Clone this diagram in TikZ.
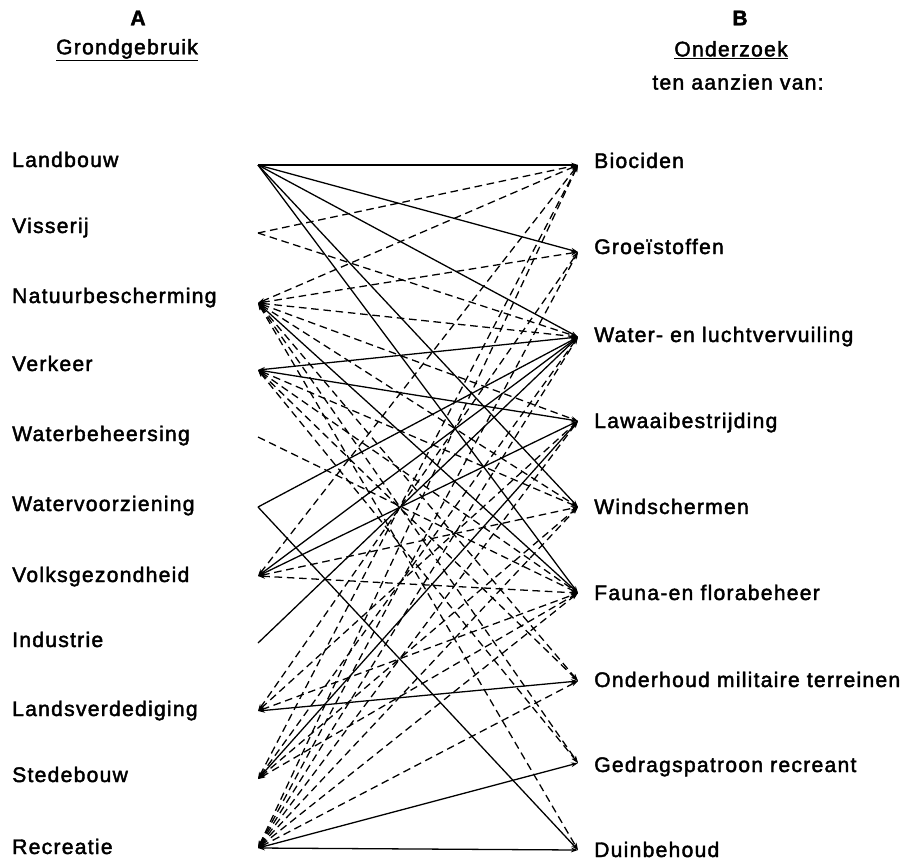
\documentclass[tikz,border=0pt]{standalone}
\usepackage{fontspec}
\setmainfont{Liberation Sans}[LetterSpace=6, FakeBold=2]
\usetikzlibrary{arrows.meta}
\tikzset{
  lbl/.style={font=\fontsize{18}{20}\selectfont, inner sep=0pt},
  lijn/.style={line width=1.1pt},
  stip/.style={line width=1.1pt, dash pattern=on 6.5pt off 4pt},
  eenkop/.style={-{Stealth[length=6pt,width=4pt]}},
  tweekop/.style={{Stealth[length=6pt,width=4pt]}-{Stealth[length=6pt,width=4pt]}}
}

\begin{document}
\begin{tikzpicture}[x=0.03cm, y=-0.03cm]
  % 1 unit = 1 pixel of the 904x861 sheet, y pointing down
  \useasboundingbox (0,0) rectangle (904,861);
  \def\xl{258}
  \def\xr{578}
  % Headings
  \node[lbl, font=\bfseries\fontsize{18}{20}\selectfont] (kopA) at (138,18) {A};
  \node[lbl] (grond) at (127,50) {\underline{Grondgebruik}};
  \node[lbl, font=\bfseries\fontsize{18}{20}\selectfont] (kopB) at (740,18) {B};
  \node[lbl] (onderz) at (731,50) {\underline{Onderzoek}};
  \node[lbl] (aanzien) at (738,82) {ten aanzien van:};
  % Column A: labels (baseline y) and line ends
  \foreach \i/\y/\e/\t in {1/167/165/Landbouw, 2/233/233/Visserij,
      3/303/303/Natuurbescherming, 4/371/370/Verkeer,
      5/441/437/Waterbeheersing, 6/511/507/Watervoorziening,
      7/582/576/Volksgezondheid, 8/647/643/Industrie,
      9/716/711/Landsverdediging, 10/782/779/Stedebouw,
      11/854/848/Recreatie} {
    \node[lbl, anchor=base west] (a\i) at (12,\y) {\t};
    \coordinate (l\i) at (\xl,\e);
  }
  % Column B: labels (baseline y) and line ends
  \foreach \i/\y/\e/\t in {1/168/165/Biociden, 2/254/252/Groeïstoffen,
      3/342/337/Water- en luchtvervuiling, 4/428/421/Lawaaibestrijding,
      5/514/507/Windschermen, 6/600/593/Fauna-en florabeheer,
      7/687/681/Onderhoud militaire terreinen,
      8/772/763/Gedragspatroon recreant, 9/857/850/Duinbehoud} {
    \node[lbl, anchor=base west] (b\i) at (594,\y) {\t};
    \coordinate (r\i) at (\xr,\e);
  }
  % Solid links, tip at B only
  \foreach \a/\b in {1/1, 1/2, 1/3, 1/5, 1/6, 6/3, 6/9, 8/3}
    \draw[lijn, eenkop] (l\a) -- (r\b);
  % Solid links, tips at both ends
  \foreach \a/\b in {3/6, 4/3, 4/4, 7/3, 7/4, 9/7, 10/4, 11/8, 11/9}
    \draw[lijn, tweekop] (l\a) -- (r\b);
  % Dashed links, tip at B only
  \foreach \a/\b in {2/1, 2/3, 5/6}
    \draw[stip, eenkop] (l\a) -- (r\b);
  % Dashed links, tips at both ends
  \foreach \a/\b in {3/1, 3/2, 3/3, 3/4, 3/5, 3/7, 3/8, 3/9,
      4/5, 4/6, 4/7, 4/8, 7/1, 7/5, 7/6, 9/2, 9/4, 9/6,
      10/1, 10/3, 10/5, 10/6, 11/1, 11/2, 11/3, 11/4, 11/5, 11/6, 11/7}
    \draw[stip, tweekop] (l\a) -- (r\b);
\end{tikzpicture}
\end{document}
